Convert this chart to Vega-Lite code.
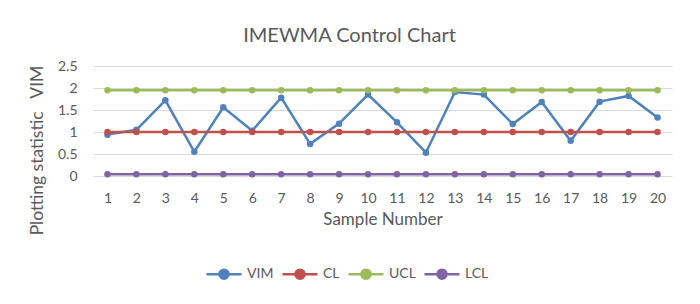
{
  "$schema": "https://vega.github.io/schema/vega-lite/v6.json",
  "width": 579,
  "height": 110,
  "autosize": "none",
  "padding": {"left": 93, "top": 66, "right": 28, "bottom": 128},
  "background": "white",
  "title": {"text": "IMEWMA Control Chart", "fontSize": 20, "font": "Lato", "fontWeight": "normal", "color": "#595959", "anchor": "middle", "offset": 13, "dx": -33},
  "data": {"values": [
    {"sample": 1, "VIM": 0.94, "CL": 1, "UCL": 1.95, "LCL": 0.04},
    {"sample": 2, "VIM": 1.05, "CL": 1, "UCL": 1.95, "LCL": 0.04},
    {"sample": 3, "VIM": 1.72, "CL": 1, "UCL": 1.95, "LCL": 0.04},
    {"sample": 4, "VIM": 0.55, "CL": 1, "UCL": 1.95, "LCL": 0.04},
    {"sample": 5, "VIM": 1.56, "CL": 1, "UCL": 1.95, "LCL": 0.04},
    {"sample": 6, "VIM": 1.03, "CL": 1, "UCL": 1.95, "LCL": 0.04},
    {"sample": 7, "VIM": 1.78, "CL": 1, "UCL": 1.95, "LCL": 0.04},
    {"sample": 8, "VIM": 0.73, "CL": 1, "UCL": 1.95, "LCL": 0.04},
    {"sample": 9, "VIM": 1.19, "CL": 1, "UCL": 1.95, "LCL": 0.04},
    {"sample": 10, "VIM": 1.85, "CL": 1, "UCL": 1.95, "LCL": 0.04},
    {"sample": 11, "VIM": 1.22, "CL": 1, "UCL": 1.95, "LCL": 0.04},
    {"sample": 12, "VIM": 0.53, "CL": 1, "UCL": 1.95, "LCL": 0.04},
    {"sample": 13, "VIM": 1.91, "CL": 1, "UCL": 1.95, "LCL": 0.04},
    {"sample": 14, "VIM": 1.85, "CL": 1, "UCL": 1.95, "LCL": 0.04},
    {"sample": 15, "VIM": 1.18, "CL": 1, "UCL": 1.95, "LCL": 0.04},
    {"sample": 16, "VIM": 1.68, "CL": 1, "UCL": 1.95, "LCL": 0.04},
    {"sample": 17, "VIM": 0.8, "CL": 1, "UCL": 1.95, "LCL": 0.04},
    {"sample": 18, "VIM": 1.69, "CL": 1, "UCL": 1.95, "LCL": 0.04},
    {"sample": 19, "VIM": 1.82, "CL": 1, "UCL": 1.95, "LCL": 0.04},
    {"sample": 20, "VIM": 1.33, "CL": 1, "UCL": 1.95, "LCL": 0.04}
  ]},
  "transform": [{"fold": ["VIM", "CL", "UCL", "LCL"], "as": ["series", "value"]}],
  "mark": {"type": "line", "strokeWidth": 2.5, "point": {"filled": true, "size": 42, "opacity": 1}},
  "encoding": {
    "x": {"field": "sample", "type": "ordinal", "scale": {"type": "point", "padding": 0.5},
      "axis": {"labelAngle": 0, "title": "Sample Number", "domain": false, "ticks": false, "grid": false, "labelPadding": 15, "titlePadding": 6, "titleFontSize": 17}},
    "y": {"field": "value", "type": "quantitative", "scale": {"domain": [0, 2.5]},
      "axis": {"values": [0, 0.5, 1, 1.5, 2, 2.5], "format": "~g", "domain": false, "ticks": false, "gridColor": "#D9D9D9", "gridWidth": 1, "labelPadding": 16, "titlePadding": 11, "titleFontSize": 17.5, "title": "Plotting statistic\u00a0\u00a0 VIM", "titleY": 84}},
    "color": {"field": "series", "type": "nominal",
      "scale": {"domain": ["VIM", "CL", "UCL", "LCL"], "range": ["#4F81BD", "#C0504D", "#9BBB59", "#8064A2"]},
      "legend": {"orient": "none", "legendX": 112, "legendY": 189, "direction": "horizontal", "title": null,
        "symbolType": "M-1,0L1,0M-0.26,0a0.26,0.26 0 1,0 0.52,0a0.26,0.26 0 1,0 -0.52,0",
        "symbolSize": 1225, "symbolStrokeWidth": 2.5, "labelFontSize": 14, "labelFont": "Lato", "labelColor": "#595959",
        "columnPadding": 3, "labelOffset": 4,
        "encode": {"symbols": {"update": {"fill": {"scale": "color", "field": "value"}, "opacity": {"value": 1}}}}}}
  },
  "config": {
    "view": {"stroke": null},
    "axis": {"labelFont": "Lato", "titleFont": "Lato", "labelColor": "#595959", "titleColor": "#595959", "titleFontWeight": "normal", "labelFontSize": 14, "titleFontSize": 16}
  }
}
